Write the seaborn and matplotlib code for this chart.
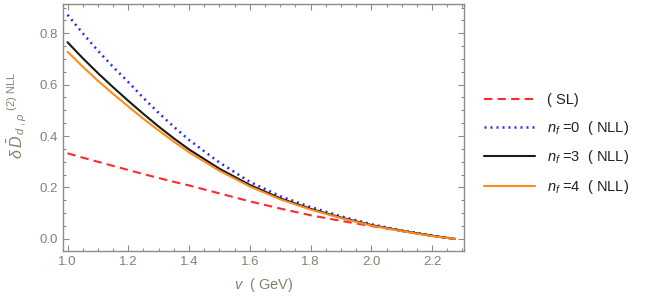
import matplotlib
matplotlib.use("Agg")
import matplotlib.pyplot as plt
from matplotlib.ticker import MultipleLocator, FormatStrFormatter
import seaborn as sns

# values
v = [1.0, 1.05, 1.1, 1.15, 1.2, 1.25, 1.3, 1.35, 1.4, 1.5, 1.6, 1.7, 1.8, 1.9, 2.0, 2.1, 2.2, 2.275]
sl = [0.333, 0.316, 0.300, 0.284, 0.268, 0.252, 0.237, 0.222, 0.208, 0.177, 0.146, 0.118, 0.092, 0.070, 0.050, 0.031, 0.012, 0.0]
nll_nf0 = [0.872, 0.800, 0.732, 0.669, 0.610, 0.548, 0.490, 0.436, 0.385, 0.297, 0.222, 0.166, 0.124, 0.088, 0.057, 0.033, 0.013, 0.0]
nll_nf3 = [0.765, 0.703, 0.645, 0.590, 0.537, 0.486, 0.437, 0.391, 0.348, 0.273, 0.210, 0.158, 0.117, 0.083, 0.054, 0.031, 0.012, 0.0]
nll_nf4 = [0.728, 0.670, 0.615, 0.564, 0.515, 0.467, 0.422, 0.378, 0.337, 0.265, 0.204, 0.154, 0.114, 0.081, 0.052, 0.030, 0.011, 0.0]

labels = ["( SL)", r"$n_f\ $=0  ( NLL)", r"$n_f\ $=3  ( NLL)", r"$n_f\ $=4  ( NLL)"]

sns.set_theme(style="ticks")
plt.rcParams["font.family"] = ["Liberation Sans", "DejaVu Sans"]
plt.rcParams["mathtext.fontset"] = "custom"
plt.rcParams["mathtext.rm"] = "Liberation Sans"
plt.rcParams["mathtext.it"] = "Liberation Sans:italic"
plt.rcParams["mathtext.bf"] = "Liberation Sans:bold"
frame_col = "#8c8c8c"
text_col = "#8a7f70"

fig = plt.figure(figsize=(6.54, 3.01), dpi=100)
ax = fig.add_axes([0.0958, 0.167, 0.6137, 0.820])

sns.lineplot(x=v, y=sl, ax=ax, color="#ff2a2a", lw=1.5, dashes=(4, 2.5), label=labels[0])
sns.lineplot(x=v, y=nll_nf0, ax=ax, color="#2a2aff", lw=1.8, dashes=(0.8, 1.6), label=labels[1])
sns.lineplot(x=v, y=nll_nf3, ax=ax, color="#1a1a1a", lw=1.5, label=labels[2])
sns.lineplot(x=v, y=nll_nf4, ax=ax, color="#ff8c1a", lw=1.5, label=labels[3])

ax.set_xlim(0.984, 2.305)
ax.set_ylim(-0.046, 0.914)
ax.xaxis.set_major_locator(MultipleLocator(0.2))
ax.xaxis.set_minor_locator(MultipleLocator(0.05))
ax.yaxis.set_major_locator(MultipleLocator(0.2))
ax.yaxis.set_minor_locator(MultipleLocator(0.05))
ax.xaxis.set_major_formatter(FormatStrFormatter("%.1f"))
ax.yaxis.set_major_formatter(FormatStrFormatter("%.1f"))
ax.tick_params(which="both", direction="in", top=True, right=True, color=frame_col,
               labelcolor=text_col, labelsize=9.5, width=0.8)
ax.tick_params(which="major", length=4)
ax.tick_params(which="minor", length=2)
for s in ax.spines.values():
    s.set_color(frame_col)
    s.set_linewidth(1.0)

ax.set_xlabel(r"$v$  ( GeV)", color=text_col, fontsize=10.5, labelpad=6)
ax.set_ylabel(r"$\delta\,\bar{D}_{\,d\ ,\rho}{}^{\ (2)\ \mathrm{NLL}}$", color=text_col,
              fontsize=11.5)
ax.yaxis.set_label_coords(-0.085, 0.55)

leg = ax.legend(loc="center left", bbox_to_anchor=(1.035, 0.43), frameon=False,
                fontsize=10.5, handlelength=3.5, handletextpad=0.85, labelspacing=0.8,
                borderaxespad=0)
for t in leg.get_texts():
    t.set_color("#222222")

fig.savefig("out.png", dpi=100)
